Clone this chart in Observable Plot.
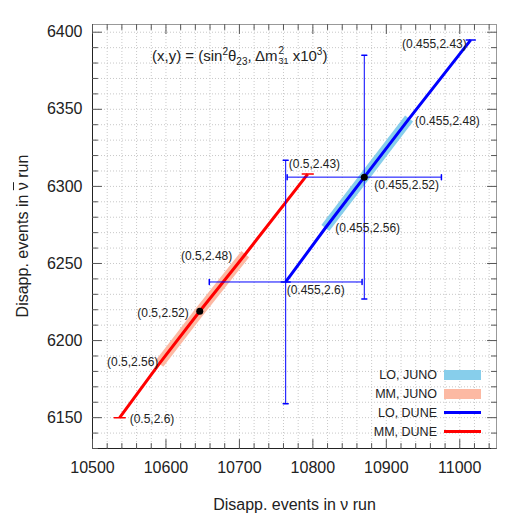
<!DOCTYPE html>
<html><head><meta charset="utf-8">
<script src="https://cdn.jsdelivr.net/npm/d3@7"></script>
<script src="https://cdn.jsdelivr.net/npm/@observablehq/plot@0.6"></script>
<style>
body{margin:0;background:#fff;}
#wrap{position:relative;width:523px;height:523px;font-family:"Liberation Sans",Arial,Helvetica,sans-serif;color:#222;}
#note{position:absolute;left:152px;top:46px;font-size:15px;white-space:nowrap;line-height:20px;}
#note sup,#note sub{font-size:10px;line-height:0;}
.ss{display:inline-block;position:relative;width:11px;height:10px;}
.ss .a{position:absolute;left:1px;top:-5px;font-size:10px;line-height:10px;}
.ss .b{position:absolute;left:1px;top:5px;font-size:9px;line-height:10px;}
.leg{position:absolute;font-size:12.5px;white-space:nowrap;}
#ylab{position:absolute;left:23px;top:236px;transform:translate(-50%,-50%) rotate(-90deg);font-size:16px;white-space:nowrap;line-height:20px;}
#ylab .ov{text-decoration:overline;}
</style></head><body><div id="wrap"></div>
<script>
// ---- data ----
const dm2 = [2.43, 2.48, 2.52, 2.56, 2.6];           // Δm²31 x10^3 along each curve
const loTheta = 0.455;                              // sin²θ23, LO
const mmTheta = 0.5;                                // sin²θ23, MM
const loX = [11015, 10931, 10870, 10817, 10763];    // ν run events, LO
const loY = [6395, 6344, 6306, 6273, 6238];         // ν̄ run events, LO
const mmX = [10793, 10708, 10646, 10591, 10537];    // ν run events, MM
const mmY = [6308, 6256, 6219, 6185, 6150];         // ν̄ run events, MM
const junoRange = [2.48, 2.56];
const bestFit = 2.52;
const errX = [10763, 10870];
const errY = [6238, 6306];
const errDX = [104, 105];
const errDY = [79, 79];
const xTicks = [10500, 10600, 10700, 10800, 10900, 11000];
const yTicks = [6150, 6200, 6250, 6300, 6350, 6400];
const xDomain = [10500, 11050];
const yDomain = [6130, 6405];
const legendLabels = ["LO, JUNO", "MM, JUNO", "LO, DUNE", "MM, DUNE"];
const xLabel = "Disapp. events in \u03BD run";
const yLabelParts = ["Disapp. events in ", "\u03BD", " run"];

// ---- derived ----
const idx = dm2.map((_, i) => i);
const junoIdx = idx.filter(i => dm2[i] >= junoRange[0] && dm2[i] <= junoRange[1]);
const bestIdx = idx.filter(i => dm2[i] === bestFit);
const endIdx = [0, dm2.length - 1];
const xMinor = d3.range(xDomain[0], xDomain[1] + 1, 20);
const yMinor = d3.range(yDomain[0], yDomain[1], 10);
const xMinorOnly = xMinor.filter(v => !xTicks.includes(v));
const yMinorOnly = yMinor.filter(v => !yTicks.includes(v));
const eIdx = errX.map((_, i) => i);

const lineShape = {draw(ctx, l) { ctx.moveTo(0, 0); ctx.lineTo(0, -l); }};
const BLUE = "#0000ff", RED = "#ff0000", SKY = "#87ceeb", SALMON = "#fcb9a3";
const TICK = "#555";

function ticks(values, axis, anchor, rotate, len) {
  const o = {frameAnchor: anchor, rotate, length: len, anchor: "start", shape: lineShape, stroke: TICK, strokeWidth: 1};
  o[axis] = d => d;
  return Plot.vector(values, o);
}

const loLab = [["end", -4, 4], ["start", 6, 3], ["start", 10, 8], ["start", 10, 0], ["start", 1, 8]];
const mmLab = [["start", -19, -10], ["end", -13, 2], ["end", -11, 2], ["end", -1, -2], ["start", 10, 1]];
const labelMarks = [];
idx.forEach(i => {
  labelMarks.push(Plot.text([i], {x: j => loX[j], y: j => loY[j], text: j => `(${loTheta},${dm2[j]})`,
    textAnchor: loLab[i][0], dx: loLab[i][1], dy: loLab[i][2], fontSize: 12, fill: "#222"}));
  labelMarks.push(Plot.text([i], {x: j => mmX[j], y: j => mmY[j], text: j => `(${mmTheta},${dm2[j]})`,
    textAnchor: mmLab[i][0], dx: mmLab[i][1], dy: mmLab[i][2], fontSize: 12, fill: "#222"}));
});

const chart = Plot.plot({
  width: 523, height: 523,
  marginLeft: 92, marginRight: 27, marginTop: 24, marginBottom: 75,
  style: {fontFamily: "'Liberation Sans', Arial, Helvetica, sans-serif", background: "white", color: "#222", overflow: "visible"},
  x: {domain: xDomain, axis: null},
  y: {domain: yDomain, axis: null},
  marks: [
    Plot.ruleX(xMinor, {stroke: "#c8c8c8", strokeDasharray: "1,2", strokeWidth: 1}),
    Plot.ruleY(yMinor, {stroke: "#c8c8c8", strokeDasharray: "1,2", strokeWidth: 1}),
    // bands (JUNO)
    Plot.line(junoIdx, {x: i => loX[i], y: i => loY[i], stroke: SKY, strokeWidth: 10, strokeLinecap: "butt"}),
    Plot.line(junoIdx, {x: i => mmX[i], y: i => mmY[i], stroke: SALMON, strokeWidth: 10, strokeLinecap: "butt"}),
    // DUNE lines
    Plot.line(idx, {x: i => mmX[i], y: i => mmY[i], stroke: RED, strokeWidth: 3, strokeLinecap: "butt"}),
    Plot.line(idx, {x: i => loX[i], y: i => loY[i], stroke: BLUE, strokeWidth: 3, strokeLinecap: "butt"}),
    // end caps
    Plot.vector(endIdx, {x: i => loX[i], y: i => loY[i], rotate: 90, anchor: "middle", length: 9, shape: lineShape, stroke: BLUE, strokeWidth: 1.5}),
    Plot.vector(endIdx, {x: i => mmX[i], y: i => mmY[i], rotate: 90, anchor: "middle", length: 11, shape: lineShape, stroke: RED, strokeWidth: 1.5}),
    // error bars
    Plot.link(eIdx, {x1: i => errX[i] - errDX[i], x2: i => errX[i] + errDX[i], y1: i => errY[i], y2: i => errY[i], stroke: BLUE, strokeWidth: 1}),
    Plot.link(eIdx, {x1: i => errX[i], x2: i => errX[i], y1: i => errY[i] - errDY[i], y2: i => errY[i] + errDY[i], stroke: BLUE, strokeWidth: 1}),
    Plot.vector(eIdx, {x: i => errX[i] - errDX[i], y: i => errY[i], rotate: 0, anchor: "middle", length: 5, shape: lineShape, stroke: BLUE}),
    Plot.vector(eIdx, {x: i => errX[i] + errDX[i], y: i => errY[i], rotate: 0, anchor: "middle", length: 5, shape: lineShape, stroke: BLUE}),
    Plot.vector(eIdx, {x: i => errX[i], y: i => errY[i] - errDY[i], rotate: 90, anchor: "middle", length: 5, shape: lineShape, stroke: BLUE}),
    Plot.vector(eIdx, {x: i => errX[i], y: i => errY[i] + errDY[i], rotate: 90, anchor: "middle", length: 5, shape: lineShape, stroke: BLUE}),
    // best-fit dots
    Plot.dot(bestIdx, {x: i => loX[i], y: i => loY[i], r: 3.5, fill: "black"}),
    Plot.dot(bestIdx, {x: i => mmX[i], y: i => mmY[i], r: 3.5, fill: "black"}),
    ...labelMarks,
    // frame
    Plot.ruleX([xDomain[1]], {stroke: "#999"}),
    Plot.ruleY([yDomain[1]], {stroke: "#999"}),
    Plot.ruleX([xDomain[0]], {stroke: "#222"}),
    Plot.ruleY([yDomain[0]], {stroke: "#222"}),
    // ticks, all four sides, inward
    ticks(xTicks, "x", "bottom", 0, 9), ticks(xMinorOnly, "x", "bottom", 0, 5),
    ticks(xTicks, "x", "top", 180, 9), ticks(xMinorOnly, "x", "top", 180, 5),
    ticks(yTicks, "y", "left", 90, 9), ticks(yMinorOnly, "y", "left", 90, 5),
    ticks(yTicks, "y", "right", 270, 9), ticks(yMinorOnly, "y", "right", 270, 5),
    // tick labels
    Plot.text(xTicks, {x: d => d, frameAnchor: "bottom", dy: 24, text: d => String(d), fontSize: 16, fill: "#222"}),
    Plot.text(yTicks, {y: d => d, frameAnchor: "left", dx: -10, textAnchor: "end", text: d => String(d), fontSize: 16, fill: "#222"}),
    // x axis title
    Plot.text([xLabel], {frameAnchor: "bottom", dy: 61, text: d => d, fontSize: 16, fill: "#222"})
  ]
});

const wrap = document.getElementById("wrap");
wrap.appendChild(chart);

// y axis title (with overbar on ν)
const ylab = document.createElement("div");
ylab.id = "ylab";
ylab.innerHTML = `${yLabelParts[0]}<span class="ov">${yLabelParts[1]}</span>${yLabelParts[2]}`;
wrap.appendChild(ylab);

const note = document.createElement("div");
note.id = "note";
note.innerHTML = '(x,y) = (sin<sup>2</sup>\u03B8<sub>23</sub>, \u0394m<span class="ss"><span class="a">2</span><span class="b">31</span></span> x10<sup>3</sup>)';
wrap.appendChild(note);

// legend
const legSwatch = [
  {c: SKY, h: 10}, {c: SALMON, h: 10}, {c: BLUE, h: 3}, {c: RED, h: 3}
];
legendLabels.forEach((lab, i) => {
  const cy = 374.5 + i * 19;
  const t = document.createElement("div");
  t.className = "leg";
  t.textContent = lab;
  t.style.right = (523 - 437) + "px";
  t.style.top = (cy - 8) + "px";
  t.style.lineHeight = "16px";
  wrap.appendChild(t);
  const s = document.createElement("div");
  s.style.position = "absolute";
  s.style.left = "444px";
  s.style.width = "37px";
  s.style.height = legSwatch[i].h + "px";
  s.style.top = (cy - legSwatch[i].h / 2) + "px";
  s.style.background = legSwatch[i].c;
  wrap.appendChild(s);
});
</script>
</body></html>
